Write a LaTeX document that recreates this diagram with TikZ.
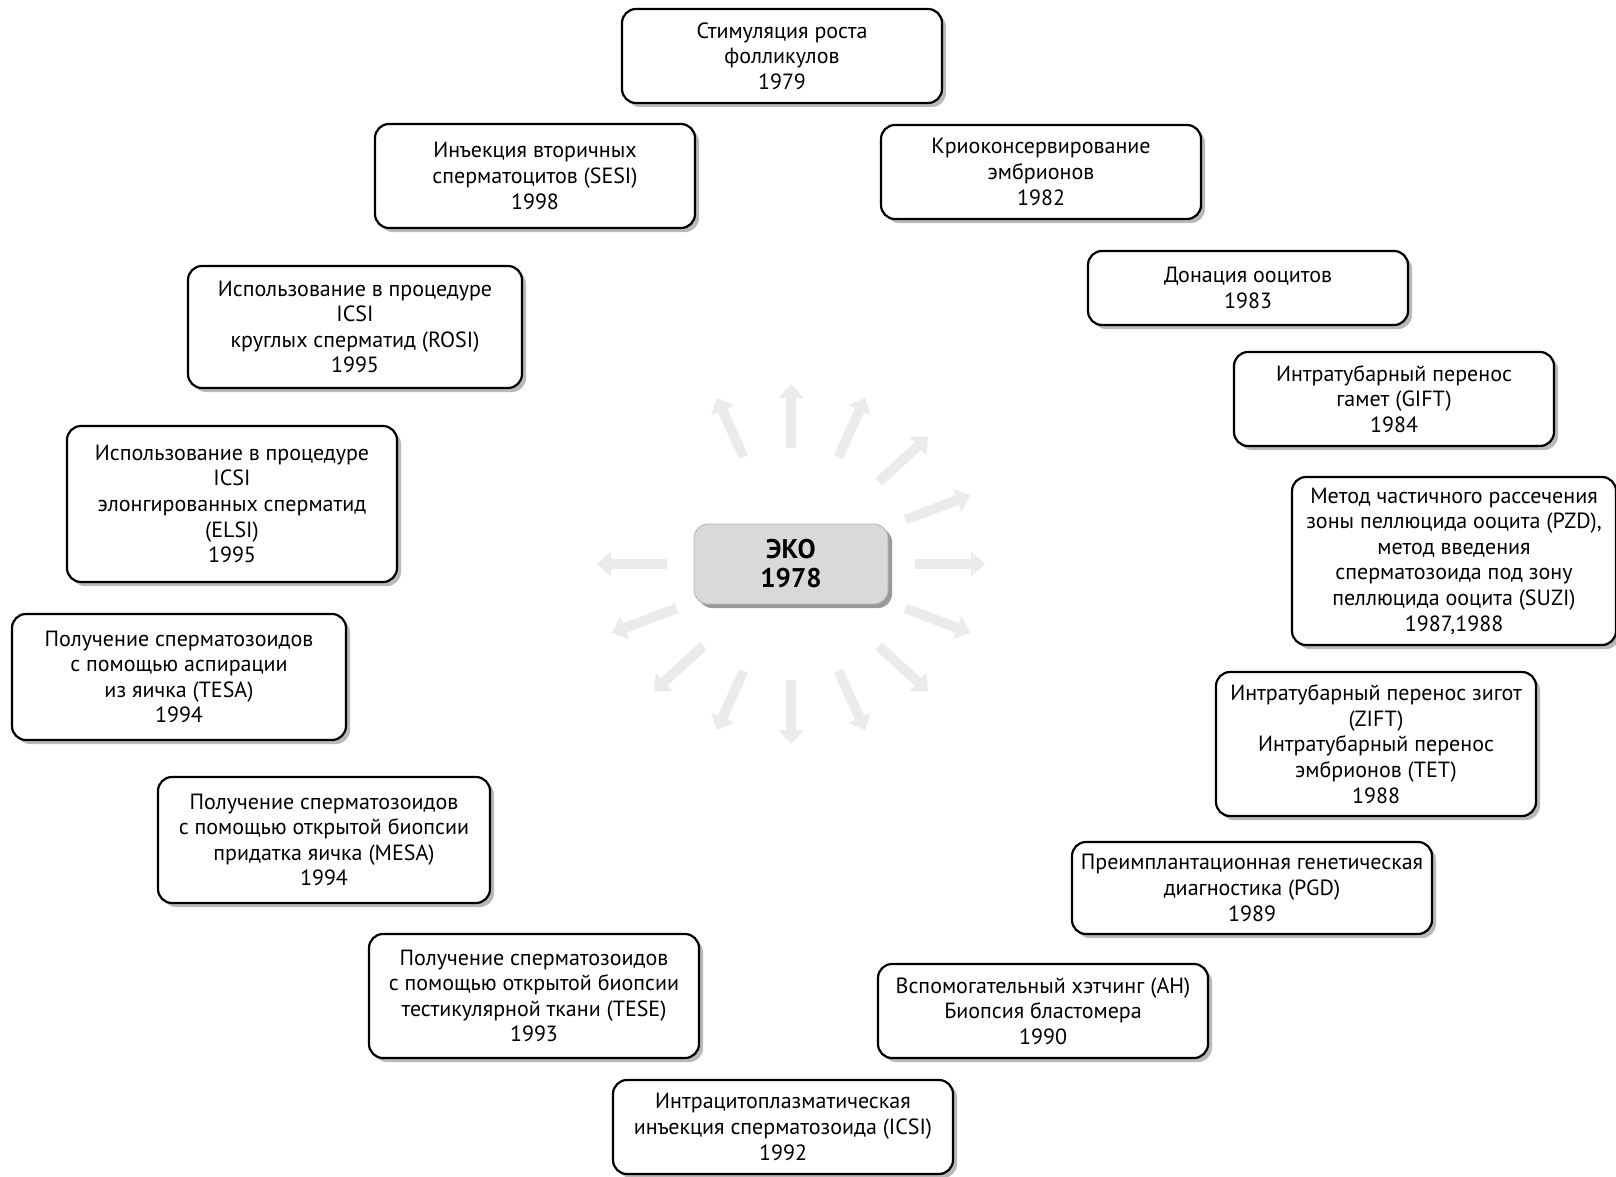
\documentclass[tikz,border=0pt]{standalone}
\usepackage{fontspec}
\setmainfont{PT Sans}
\usepackage{tikz}
\usetikzlibrary{arrows.meta,calc,shadows,positioning}

\tikzset{
  stage/.style={draw, line width=1.1pt, rounded corners=7pt, fill=white, align=center,
    font=\fontsize{11}{12.8}\selectfont, inner sep=2pt,
    drop shadow={shadow xshift=2pt, shadow yshift=-2pt, fill=gray!55, opacity=1}},
  root/.style={draw=gray!60, rounded corners=7pt, fill=gray!30, align=center,
    font=\fontsize{13.5}{14.5}\selectfont\bfseries, minimum width=97pt, minimum height=40pt,
    drop shadow={shadow xshift=2pt, shadow yshift=-2pt, fill=gray!80, opacity=1}},
  ray/.style={gray!16, line width=5pt, -{Triangle[length=7pt,width=12pt]}}
}

\begin{document}
\begin{tikzpicture}[x=0.5pt, y=-0.5pt]
\useasboundingbox (0,0) rectangle (1616,1177);

\node[root] (eko) at (791,564) {ЭКО\\1978};

\foreach \a in {0,22.5,45,67.5,90,112.5,180,202.5,225,247.5,270,292.5,315,337.5}
  \draw[ray] ($(eko)+(\a:62pt and 58pt)$) -- ($(eko)+(\a:97pt and 90pt)$);

\node[stage, minimum width=160pt, minimum height=47pt] (stim) at (782,56)
  {Стимуляция роста\\фолликулов\\1979};
\node[stage, minimum width=160pt, minimum height=52pt] (sesi) at (535,176)
  {Инъекция вторичных\\сперматоцитов (SESI)\\1998};
\node[stage, minimum width=160pt, minimum height=47pt] (krio) at (1041,172)
  {Криоконсервирование\\эмбрионов\\1982};
\node[stage, minimum width=160pt, minimum height=37pt] (donor) at (1248,288)
  {Донация ооцитов\\1983};
\node[stage, minimum width=167pt, minimum height=61pt] (rosi) at (355,327)
  {Использование в процедуре\\ICSI\\круглых сперматид (ROSI)\\1995};
\node[stage, minimum width=160pt, minimum height=47pt] (gift) at (1394,399)
  {Интратубарный перенос\\гамет (GIFT)\\1984};
\node[stage, minimum width=165pt, minimum height=78pt] (elsi) at (232,504)
  {Использование в процедуре\\ICSI\\элонгированных сперматид\\(ELSI)\\1995};
\node[stage, minimum width=162pt, minimum height=84pt] (pzd) at (1454,561)
  {Метод частичного рассечения\\зоны пеллюцида ооцита (PZD),\\метод введения\\сперматозоида под зону\\пеллюцида ооцита (SUZI)\\1987,1988};
\node[stage, minimum width=167pt, minimum height=63pt] (tesa) at (179,677)
  {Получение сперматозоидов\\с помощью аспирации\\из яичка (TESA)\\1994};
\node[stage, minimum width=160pt, minimum height=72pt] (zift) at (1376,744)
  {Интратубарный перенос зигот\\(ZIFT)\\Интратубарный перенос\\эмбрионов (TET)\\1988};
\node[stage, minimum width=166pt, minimum height=63pt] (mesa) at (324,840)
  {Получение сперматозоидов\\с помощью открытой биопсии\\придатка яичка (MESA)\\1994};
\node[stage, minimum width=180pt, minimum height=46pt] (pgd) at (1252,888)
  {Преимплантационная генетическая\\диагностика (PGD)\\1989};
\node[stage, minimum width=165pt, minimum height=62pt] (tese) at (534,996)
  {Получение сперматозоидов\\с помощью открытой биопсии\\тестикулярной ткани (TESE)\\1993};
\node[stage, minimum width=165pt, minimum height=47pt] (ah) at (1043,1011)
  {Вспомогательный хэтчинг (AH)\\Биопсия бластомера\\1990};
\node[stage, minimum width=170pt, minimum height=47pt] (icsi) at (783,1127)
  {Интрацитоплазматическая\\инъекция сперматозоида (ICSI)\\1992};
\end{tikzpicture}
\end{document}
